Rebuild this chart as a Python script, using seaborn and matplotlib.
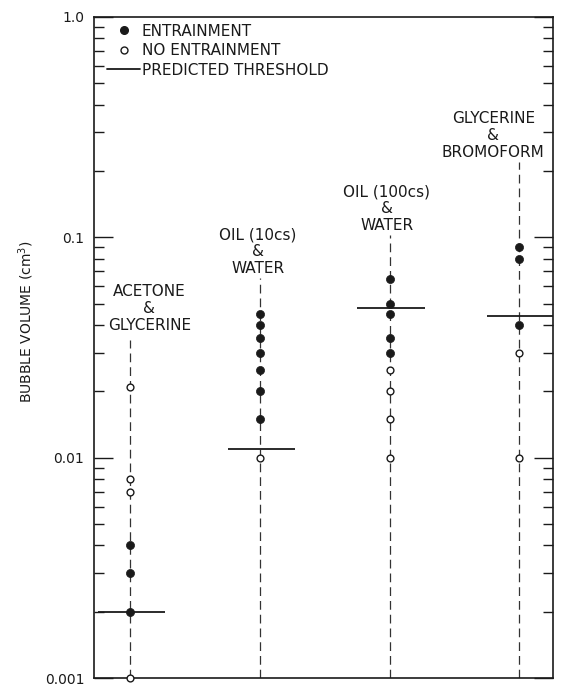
"""
Bubble entrainment vs bubble volume for four liquid pairs,
with the predicted threshold for each pair
"""
import pandas as pd
import seaborn as sns
import matplotlib.pyplot as plt
import matplotlib.transforms as mtransforms
from matplotlib.lines import Line2D
from matplotlib.ticker import LogLocator, NullFormatter, FixedLocator, FixedFormatter

# data (bubble volume, cm^3)
systems = ["ACETONE\n&\nGLYCERINE", "OIL (10cs)\n&\nWATER",
           "OIL (100cs)\n&\nWATER", "GLYCERINE\n&\nBROMOFORM"]
entrained = [
    [0.002, 0.003, 0.004],
    [0.015, 0.02, 0.025, 0.03, 0.035, 0.04, 0.045],
    [0.03, 0.035, 0.045, 0.05, 0.065],
    [0.04, 0.08, 0.09],
]
not_entrained = [
    [0.001, 0.007, 0.008, 0.021],
    [0.01],
    [0.01, 0.015, 0.02, 0.025],
    [0.01, 0.03],
]
thresholds = [0.002, 0.011, 0.048, 0.044]
ytick_values = [0.001, 0.01, 0.1, 1.0]
ytick_labels = ["0.001", "0.01", "0.1", "1.0"]
legend_labels = ["ENTRAINMENT", "NO ENTRAINMENT", "PREDICTED THRESHOLD"]

# layout tweaks (not data)
label_dx = [0.146, -0.015, -0.023, -0.2]
label_base = [0.5265, 0.6127, 0.6778, 0.7882]
guide_top = [0.511, 0.605, 0.670, 0.780]

ink = "#1a1a1a"

rows = []
for i, (ent, no) in enumerate(zip(entrained, not_entrained)):
    rows += [(i, v, "ent") for v in ent]
    rows += [(i, v, "no") for v in no]
df = pd.DataFrame(rows, columns=["pos", "volume", "state"])

sns.set_style("ticks")
plt.rcParams["font.family"] = ["DejaVu Sans"]

fig = plt.figure(figsize=(5.62, 6.87), dpi=100)
ax = fig.add_axes([94 / 562, 9 / 687, 459 / 562, 661 / 687])

# dashed guide for each system
for i in range(len(systems)):
    ax.axvline(i, ymin=0, ymax=guide_top[i], color="#333333", lw=0.9,
               ls=(0, (7, 4)), zorder=1)

# predicted threshold bars
ax.hlines(thresholds, [i - 0.25 for i in range(4)], [i + 0.27 for i in range(4)],
          color=ink, lw=1.3, zorder=2)

sns.scatterplot(data=df[df.state == "ent"], x="pos", y="volume", ax=ax,
                color=ink, edgecolor=ink, s=34, linewidth=0.5, zorder=3,
                clip_on=False, legend=False)
sns.scatterplot(data=df[df.state == "no"], x="pos", y="volume", ax=ax,
                facecolor="white", edgecolor=ink, s=24, linewidth=1.0, zorder=3,
                clip_on=False, legend=False)

ax.set_yscale("log")
ax.set_ylim(0.001, 1.0)
ax.set_xlim(-0.28, 3.26)
ax.set_xticks([])
ax.set_xlabel("")
ax.yaxis.set_major_locator(FixedLocator(ytick_values))
ax.yaxis.set_major_formatter(FixedFormatter(ytick_labels))
ax.yaxis.set_minor_locator(LogLocator(base=10, subs=range(2, 10)))
ax.yaxis.set_minor_formatter(NullFormatter())
ax.tick_params(axis="y", which="major", direction="in", length=14, width=1.0,
               left=True, right=True, pad=7, labelsize=10, colors=ink)
ax.tick_params(axis="y", which="minor", direction="in", length=7, width=1.0,
               left=True, right=True, colors=ink)
for s in ax.spines.values():
    s.set_visible(True)
    s.set_color(ink)
    s.set_linewidth(1.2)

ax.set_ylabel("BUBBLE VOLUME (cm$^3$)", fontsize=10, color=ink)
ax.yaxis.set_label_coords(-0.126, 0.539)

# system labels above the guides
trans = mtransforms.blended_transform_factory(ax.transData, ax.transAxes)
for i, name in enumerate(systems):
    ax.text(i + label_dx[i], label_base[i], name, transform=trans, ha="center",
            va="baseline", multialignment="center", fontsize=11,
            linespacing=1.15, color=ink)

handles = [
    Line2D([], [], marker="o", ls="none", color=ink, markersize=5.5),
    Line2D([], [], marker="o", ls="none", mfc="white", mec=ink, markersize=5,
           mew=1.0),
    Line2D([], [], color=ink, lw=1.3),
]
ax.legend(handles, legend_labels, loc="upper left", bbox_to_anchor=(0.028, 0.99),
          frameon=False, handlelength=2.2, handletextpad=0.1, labelspacing=0.3,
          borderaxespad=0, borderpad=0, fontsize=11, labelcolor=ink)

fig.savefig("out.png", dpi=100)
